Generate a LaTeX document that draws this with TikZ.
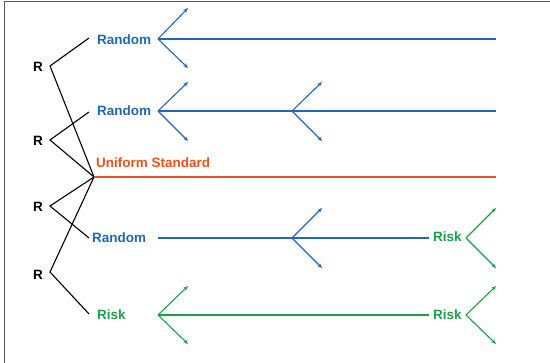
\documentclass[tikz,border=0pt]{standalone}
\usepackage{fontspec}
\setmainfont{Liberation Sans}
\usetikzlibrary{arrows.meta}
\definecolor{rblue}{HTML}{2466B0}
\definecolor{rgreen}{HTML}{1BA04A}
\definecolor{rorange}{HTML}{E9531E}
\definecolor{rframe}{HTML}{555555}
\tikzset{
  lbl/.style={font=\bfseries\fontsize{13.5}{16}\selectfont, inner sep=0pt, anchor=west},
  rlbl/.style={font=\bfseries\fontsize{13.5}{16}\selectfont, inner sep=0pt, anchor=east, text=black},
  branch/.style={draw=black, line width=1.1pt},
  flow/.style={line width=1.3pt},
  tip/.style={line width=1.1pt, -{Stealth[length=5pt,width=4pt]}},
}
\begin{document}
\begin{tikzpicture}[x=1pt, y=-1pt]
\useasboundingbox (0,0) rectangle (550,363);
% frame edges
\draw[rframe, line width=1.4pt] (4.5,363) -- (4.5,1.5) -- (550,1.5);

% tree labels
\node[rlbl] (r1) at (43,67) {R};
\node[rlbl] (r2) at (43,141) {R};
\node[rlbl] (r3) at (43,207) {R};
\node[rlbl] (r4) at (43,275) {R};

\coordinate (v1) at (50,66);
\coordinate (v2) at (50,140);
\coordinate (v3) at (50,206);
\coordinate (v4) at (50,272);
\coordinate (hub) at (94,177);
\coordinate (e1) at (89,38);
\coordinate (e2) at (89,112);
\coordinate (e3) at (89,238);
\coordinate (e4) at (89,314);

\draw[branch] (e1) -- (v1) -- (hub);
\draw[branch] (e2) -- (v2) -- (hub);
\draw[branch] (hub) -- (v3) -- (e3);
\draw[branch] (hub) -- (v4) -- (e4);

% branch labels
\node[lbl, text=rblue] (rand1) at (97,40) {Random};
\node[lbl, text=rblue] (rand2) at (97,111) {Random};
\node[lbl, text=rorange] (unif) at (96,163) {Uniform Standard};
\node[lbl, text=rblue] (rand3) at (92,238) {Random};
\node[lbl, text=rgreen] (risk1) at (97,315) {Risk};
\node[lbl, text=rgreen] (risk2) at (433,237) {Risk};
\node[lbl, text=rgreen] (risk3) at (433,315) {Risk};

% row 1
\coordinate (a1) at (158,39);
\coordinate (b1) at (496,39);
\draw[flow, rblue] (a1) -- (b1);
\coordinate (a1u) at (188,8);
\coordinate (a1d) at (188,68);
\draw[tip, rblue] (a1) -- (a1u);
\draw[tip, rblue] (a1) -- (a1d);

% row 2
\coordinate (a2) at (158,111);
\coordinate (c2) at (292,111);
\coordinate (b2) at (496,111);
\draw[flow, rblue] (a2) -- (b2);
\coordinate (a2u) at (188,82);
\coordinate (a2d) at (188,141);
\coordinate (c2u) at (322,82);
\coordinate (c2d) at (322,141);
\draw[tip, rblue] (a2) -- (a2u);
\draw[tip, rblue] (a2) -- (a2d);
\draw[tip, rblue] (c2) -- (c2u);
\draw[tip, rblue] (c2) -- (c2d);

% standard line
\coordinate (b0) at (496,177);
\draw[rorange, line width=2.6pt] (hub) -- (b0);

% row 3
\coordinate (a3) at (158,238);
\coordinate (c3) at (292,238);
\coordinate (b3) at (429,238);
\draw[flow, rblue] (a3) -- (b3);
\coordinate (c3u) at (322,208);
\coordinate (c3d) at (322,268);
\draw[tip, rblue] (c3) -- (c3u);
\draw[tip, rblue] (c3) -- (c3d);
\coordinate (k3) at (466,238);
\coordinate (k3u) at (496,208);
\coordinate (k3d) at (496,268);
\draw[tip, rgreen] (k3) -- (k3u);
\draw[tip, rgreen] (k3) -- (k3d);

% row 4
\coordinate (a4) at (158,315);
\coordinate (b4) at (429,315);
\draw[flow, rgreen] (a4) -- (b4);
\coordinate (a4u) at (188,286);
\coordinate (a4d) at (188,344);
\draw[tip, rgreen] (a4) -- (a4u);
\draw[tip, rgreen] (a4) -- (a4d);
\coordinate (k4) at (466,315);
\coordinate (k4u) at (496,286);
\coordinate (k4d) at (496,344);
\draw[tip, rgreen] (k4) -- (k4u);
\draw[tip, rgreen] (k4) -- (k4d);
\end{tikzpicture}
\end{document}
